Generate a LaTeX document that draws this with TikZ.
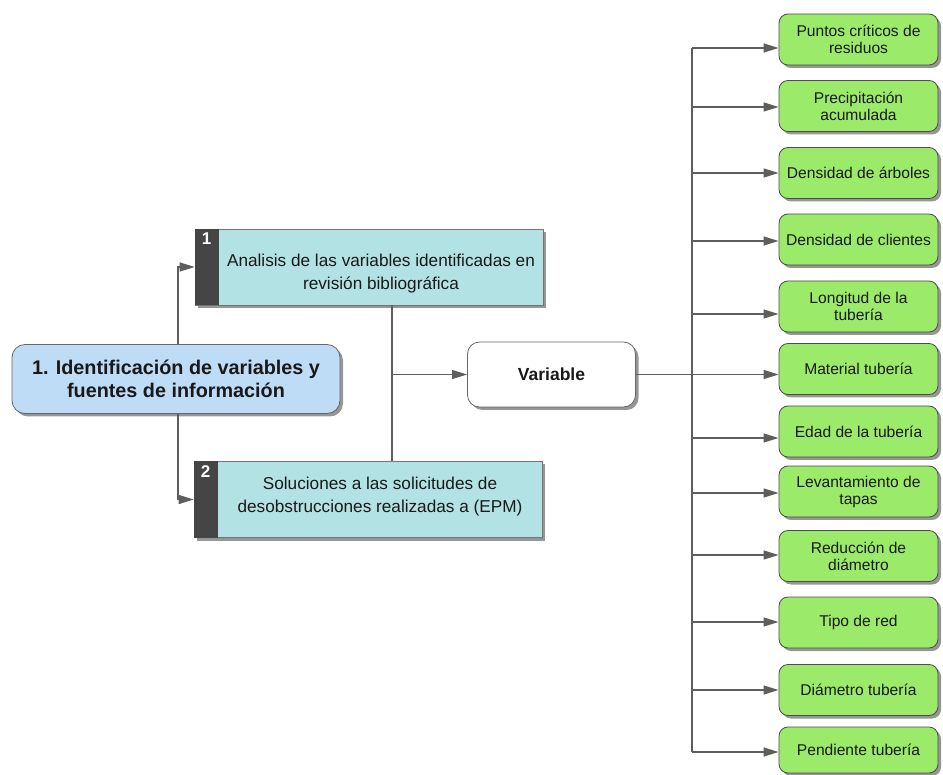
\documentclass[tikz,border=0pt]{standalone}
\usepackage{fontspec}
\setmainfont{Liberation Sans}
\usetikzlibrary{arrows.meta,shadows}

\definecolor{linegray}{HTML}{5E5E5E}
\definecolor{leafgreen}{HTML}{9CEA6A}
\definecolor{tealfill}{HTML}{B2E2E4}
\definecolor{skyfill}{HTML}{BFDCF7}
\definecolor{stripgray}{HTML}{454545}

\tikzset{
  conn/.style={draw=linegray, line width=1.2pt},
  arr/.style={conn, -{Triangle[length=15pt,width=9pt]}},
  softshadow/.style={drop shadow={shadow xshift=3pt, shadow yshift=-3pt, fill=black!55, opacity=0.75}},
  vbox/.style={draw=black!70, line width=0.8pt, fill=leafgreen, rounded corners=9pt,
    minimum width=159pt, minimum height=51pt, inner sep=2pt, align=center,
    font=\fontsize{15.6}{17}\selectfont, text=black!90, softshadow},
  taskbox/.style={draw=black!55, line width=0.6pt, fill=tealfill,
    minimum width=348pt, minimum height=76pt, softshadow},
  tasktext/.style={align=center, font=\fontsize{17.2}{23}\selectfont, text=black!90},
  tasknum/.style={anchor=north, text=white, font=\bfseries\fontsize{17}{17}\selectfont, inner sep=0pt},
  mainbox/.style={draw=black!60, line width=0.8pt, fill=skyfill, rounded corners=13pt,
    minimum width=328pt, minimum height=69pt, align=center,
    font=\bfseries\fontsize{19.8}{23}\selectfont, text=black!90, softshadow},
  varbox/.style={draw=black!60, line width=0.8pt, fill=white, rounded corners=12pt,
    minimum width=168pt, minimum height=65pt, font=\bfseries\fontsize{17.5}{17.5}\selectfont,
    text=black!90, softshadow}
}

\begin{document}
\begin{tikzpicture}[x=1pt,y=-1pt]
\useasboundingbox (0,0) rectangle (943,775);

% main topic
\node[mainbox] (m) at (176,379) {1. Identificación de variables y\\fuentes de información};

% numbered tasks
\node[taskbox] (t1) at (369,267) {};
\fill[stripgray] (t1.north west) rectangle ([xshift=24pt]t1.south west);
\node[tasknum] (n1) at ([xshift=12pt,yshift=-4pt]t1.north west) {1};
\node[tasktext] (x1) at ([xshift=12pt,yshift=-7pt]t1.center) {Analisis de las variables identificadas en\\revisión bibliográfica};

\node[taskbox] (t2) at (368,499.5) {};
\fill[stripgray] (t2.north west) rectangle ([xshift=24pt]t2.south west);
\node[tasknum] (n2) at ([xshift=12pt,yshift=-4pt]t2.north west) {2};
\node[tasktext] (x2) at ([xshift=12pt,yshift=3pt]t2.center) {Soluciones a las solicitudes de\\desobstrucciones realizadas a (EPM)};

% central node
\node[varbox] (v) at (551.5,374.5) {Variable};

% variables
\node[vbox] (g1)  at (858.5,39.5)  {Puntos críticos de\\residuos};
\node[vbox] (g2)  at (858.5,106)   {Precipitación\\acumulada};
\node[vbox] (g3)  at (858.5,173)   {Densidad de árboles};
\node[vbox] (g4)  at (858.5,239.5) {Densidad de clientes};
\node[vbox] (g5)  at (858.5,306.5) {Longitud de la\\tubería};
\node[vbox] (g6)  at (858.5,369)   {Material tubería};
\node[vbox] (g7)  at (858.5,431.5) {Edad de la tubería};
\node[vbox] (g8)  at (858.5,491.5) {Levantamiento de\\tapas};
\node[vbox] (g9)  at (858.5,556)   {Reducción de\\diámetro};
\node[vbox] (g10) at (858.5,622.5) {Tipo de red};
\node[vbox] (g11) at (858.5,690)   {Diámetro tubería};
\node[vbox,minimum height=46pt] (g12) at (858.5,750) {Pendiente tubería};

% connectors from the main topic to the tasks
\draw[arr] ([xshift=2pt]m.north) |- (t1.west);
\draw[arr] ([xshift=2pt]m.south) |- (t2.west);

% tasks joined and led to the central node
\coordinate (j) at (392,374.5);
\draw[conn] (t1.south -| j) -- (t2.north -| j);
\draw[arr] (j) -- (v.west);

% bus to the variables
\draw[arr] (v.east) -- (g6.west |- v.east);
\coordinate (a1)  at (692,48);
\coordinate (a2)  at (692,107);
\coordinate (a3)  at (692,173);
\coordinate (a4)  at (692,241);
\coordinate (a5)  at (692,314);
\coordinate (a7)  at (692,438);
\coordinate (a8)  at (692,493);
\coordinate (a9)  at (692,555);
\coordinate (a10) at (692,622);
\coordinate (a11) at (692,690);
\coordinate (a12) at (692,752);
\draw[conn] (a1) -- (a12);
\foreach \i in {1,2,3,4,5,7,8,9,10,11,12}
  \draw[arr] (a\i) -- (g\i.west |- a\i);
\end{tikzpicture}
\end{document}
